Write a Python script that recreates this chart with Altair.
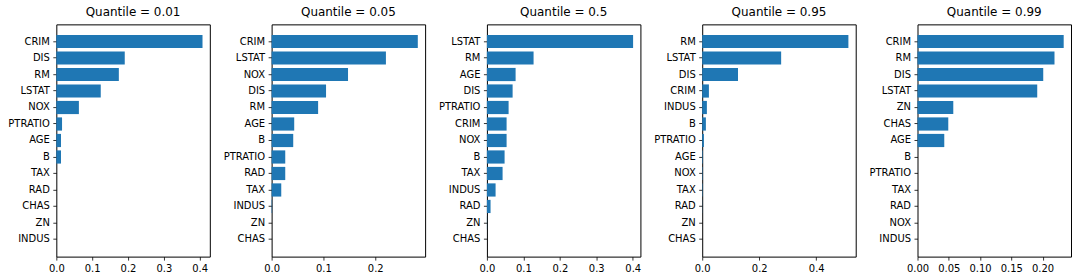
import altair as alt
import pandas as pd

# ---- data ----
quantiles = ["0.01", "0.05", "0.5", "0.95", "0.99"]

q01_features = ["CRIM", "DIS", "RM", "LSTAT", "NOX", "PTRATIO", "AGE", "B", "TAX", "RAD", "CHAS", "ZN", "INDUS"]
q01_values = [0.408, 0.191, 0.1745, 0.124, 0.063, 0.016, 0.013, 0.013, 0.0, 0.0, 0.0, 0.0, 0.0]

q05_features = ["CRIM", "LSTAT", "NOX", "DIS", "RM", "AGE", "B", "PTRATIO", "RAD", "TAX", "INDUS", "ZN", "CHAS"]
q05_values = [0.282, 0.2205, 0.1474, 0.105, 0.0897, 0.0436, 0.0417, 0.0263, 0.0263, 0.0186, 0.001, 0.0, 0.0]

q50_features = ["LSTAT", "RM", "AGE", "DIS", "PTRATIO", "CRIM", "NOX", "B", "TAX", "INDUS", "RAD", "ZN", "CHAS"]
q50_values = [0.401, 0.128, 0.0787, 0.0705, 0.0595, 0.054, 0.054, 0.0485, 0.043, 0.0238, 0.010, 0.0005, 0.0]

q95_features = ["RM", "LSTAT", "DIS", "CRIM", "INDUS", "B", "PTRATIO", "AGE", "NOX", "TAX", "RAD", "ZN", "CHAS"]
q95_values = [0.5126, 0.2768, 0.1255, 0.0235, 0.0164, 0.0129, 0.006, 0.002, 0.0015, 0.0015, 0.0005, 0.0, 0.0]

q99_features = ["CRIM", "RM", "DIS", "LSTAT", "ZN", "CHAS", "AGE", "B", "PTRATIO", "TAX", "RAD", "NOX", "INDUS"]
q99_values = [0.2337, 0.219, 0.201, 0.1914, 0.0572, 0.0492, 0.0428, 0.0, 0.0, 0.0, 0.0, 0.0, 0.0]

q01_ticks = [0.0, 0.1, 0.2, 0.3, 0.4]
q05_ticks = [0.0, 0.1, 0.2]
q50_ticks = [0.0, 0.1, 0.2, 0.3, 0.4]
q95_ticks = [0.0, 0.2, 0.4]
q99_ticks = [0.0, 0.05, 0.10, 0.15, 0.20]
tick_formats = [".1f", ".1f", ".1f", ".1f", ".2f"]

panels = [
    (q01_features, q01_values, q01_ticks),
    (q05_features, q05_values, q05_ticks),
    (q50_features, q50_values, q50_ticks),
    (q95_features, q95_values, q95_ticks),
    (q99_features, q99_values, q99_ticks),
]

FONT = "DejaVu Sans"
charts = []
for q, (feats, vals, ticks), fmt in zip(quantiles, panels, tick_formats):
    df = pd.DataFrame({"feature": feats, "importance": vals})
    xmax = max(vals) * 1.05
    c = (
        alt.Chart(df, title=alt.TitleParams(f"Quantile = {q}"))
        .mark_bar(color="#1f77b4")
        .encode(
            x=alt.X(
                "importance:Q",
                scale=alt.Scale(domain=[0, xmax], nice=False, zero=True),
                axis=alt.Axis(values=ticks, format=fmt, title=None,
                              labelOverlap=False, labelFlush=False),
            ),
            y=alt.Y(
                "feature:N",
                sort=feats,
                scale=alt.Scale(paddingInner=0.2, paddingOuter=0.64),
                axis=alt.Axis(title=None, minExtent=52, labelOverlap=False),
            ),
        )
        .properties(width=154, height=233)
    )
    charts.append(c)

chart = (
    alt.hconcat(*charts, spacing=8)
    .properties(padding={"left": 3.5, "top": 5, "right": 0, "bottom": 0})
    .configure(font=FONT)
    .configure_view(stroke="black", strokeWidth=1)
    .configure_axis(
        domain=False,
        grid=False,
        ticks=True,
        tickColor="black",
        tickSize=3.5,
        tickWidth=0.8,
        labelPadding=3.5,
        labelColor="black",
        labelFontSize=10,
        labelFont=FONT,
    )
    .configure_title(
        fontSize=12,
        font=FONT,
        fontWeight="normal",
        color="black",
        anchor="middle",
        offset=5.5,
        baseline="alphabetic",
    )
)

chart.save("out.html", embed_options={"renderer": "svg", "actions": False})
